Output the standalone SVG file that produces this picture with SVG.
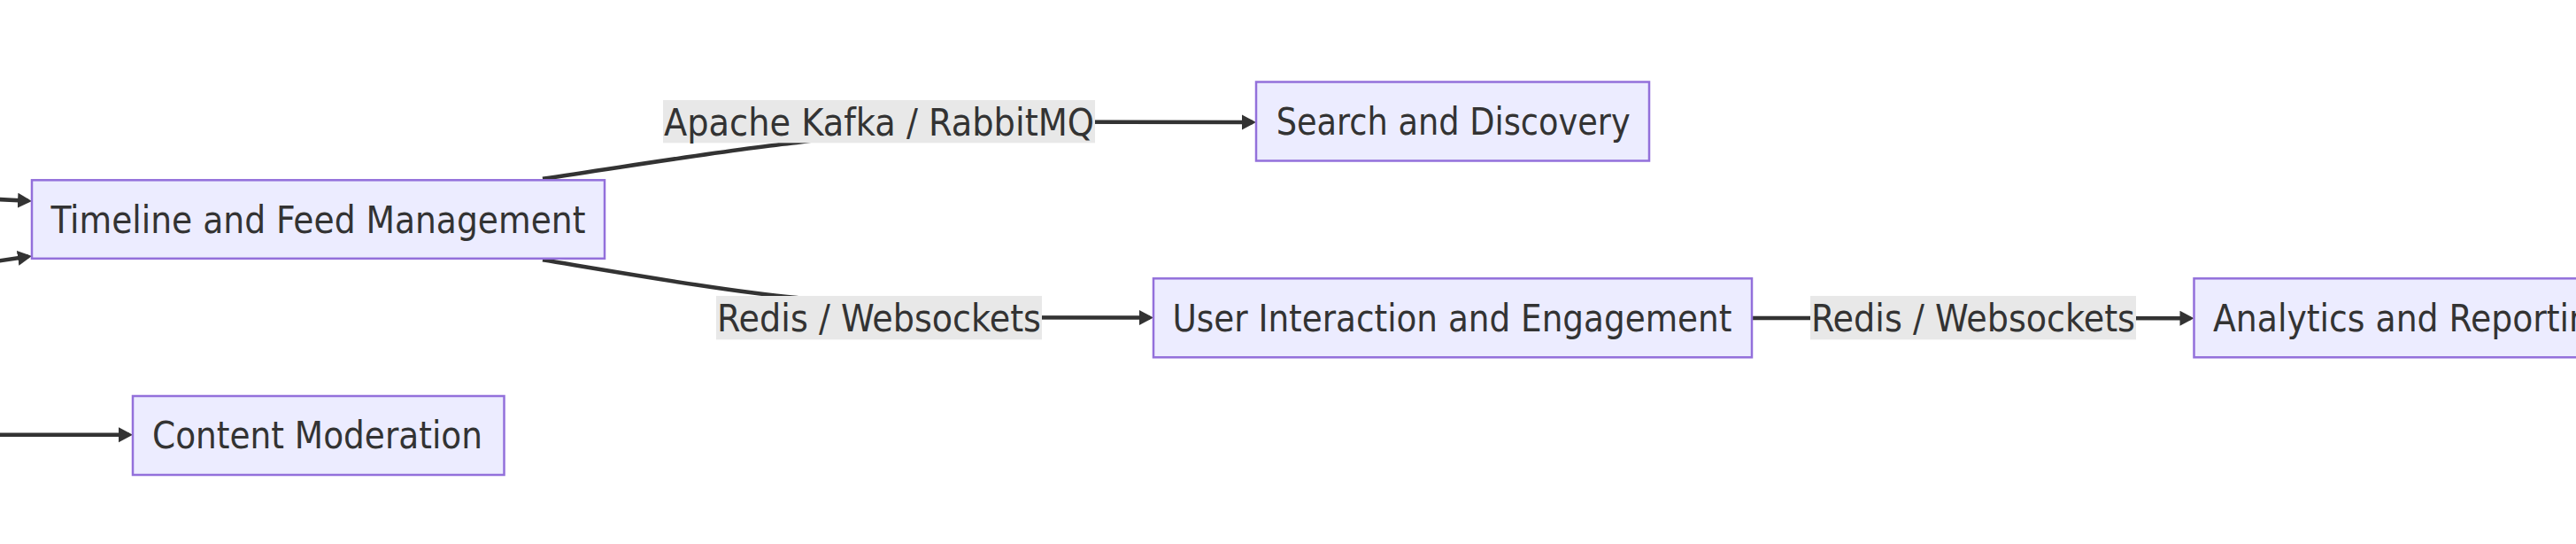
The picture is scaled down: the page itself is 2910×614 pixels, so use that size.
<svg xmlns="http://www.w3.org/2000/svg" width="2910" height="614" viewBox="0 0 2910 614">
  <style>
    .node rect { fill: #ECECFF; stroke: #9370DB; stroke-width: 2.5; }
    .lbl rect { fill: #E8E8E8; stroke: none; }
    text { font-family: "DejaVu Sans Condensed", "DejaVu Sans", sans-serif; font-stretch: condensed; font-size: 43px; fill: #333333; }
    .edge { fill: none; stroke: #333333; stroke-width: 4.5; }
  </style>
  <defs>
    <marker id="arrow" markerUnits="userSpaceOnUse" markerWidth="18" markerHeight="18" refX="12" refY="8.5" orient="auto">
      <path d="M0,0 L16,8.5 L0,17 z" fill="#333333"/>
    </marker>
  </defs>
  <rect x="0" y="0" width="2910" height="614" fill="#FFFFFF"/>

  <g id="connectors">
    <path class="edge" d="M-10,224.6 L32,226.8" marker-end="url(#arrow)"/>
    <path class="edge" d="M-10,295.8 L32,289.6" marker-end="url(#arrow)"/>
    <path class="edge" d="M-10,490.7 L146,490.7" marker-end="url(#arrow)"/>
    <path class="edge" d="M613,201.7 C720,186 830,168 900,161 C950,156 960,137.3 1010,137.3 L1415,138" marker-end="url(#arrow)"/>
    <path class="edge" d="M613,293.3 C720,311 830,330 900,336 C950,341 960,358.3 1010,358.3 L1299,358.5" marker-end="url(#arrow)"/>
    <path class="edge" d="M1979,359 L2474.5,359.2" marker-end="url(#arrow)"/>
  </g>

  <g id="label-kafka" class="lbl">
    <rect x="749" y="113" width="488" height="48.3"/>
    <text x="750" y="152.7" textLength="486" lengthAdjust="spacingAndGlyphs">Apache Kafka / RabbitMQ</text>
  </g>
  <g id="label-redis-1" class="lbl">
    <rect x="809" y="334" width="368" height="49.3"/>
    <text x="810" y="373.8" textLength="366" lengthAdjust="spacingAndGlyphs">Redis / Websockets</text>
  </g>
  <g id="label-redis-2" class="lbl">
    <rect x="2045" y="334" width="368" height="49.3"/>
    <text x="2046" y="373.8" textLength="366" lengthAdjust="spacingAndGlyphs">Redis / Websockets</text>
  </g>

  <g id="timeline" class="node">
    <rect x="36" y="203.3" width="647" height="88.5"/>
    <text x="57.4" y="262.6" textLength="604" lengthAdjust="spacingAndGlyphs">Timeline and Feed Management</text>
  </g>
  <g id="search" class="node">
    <rect x="1419" y="92.5" width="444" height="89"/>
    <text x="1441.7" y="152.4" textLength="400" lengthAdjust="spacingAndGlyphs">Search and Discovery</text>
  </g>
  <g id="user-interaction" class="node">
    <rect x="1303" y="314.3" width="676" height="89"/>
    <text x="1324.4" y="373.8" textLength="632" lengthAdjust="spacingAndGlyphs">User Interaction and Engagement</text>
  </g>
  <g id="analytics" class="node">
    <rect x="2478.5" y="314.3" width="494" height="89"/>
    <text x="2500" y="373.8" textLength="450" lengthAdjust="spacingAndGlyphs">Analytics and Reporting</text>
  </g>
  <g id="content-moderation" class="node">
    <rect x="150" y="447" width="419.5" height="89"/>
    <text x="172" y="506" textLength="373" lengthAdjust="spacingAndGlyphs">Content Moderation</text>
  </g>
</svg>
